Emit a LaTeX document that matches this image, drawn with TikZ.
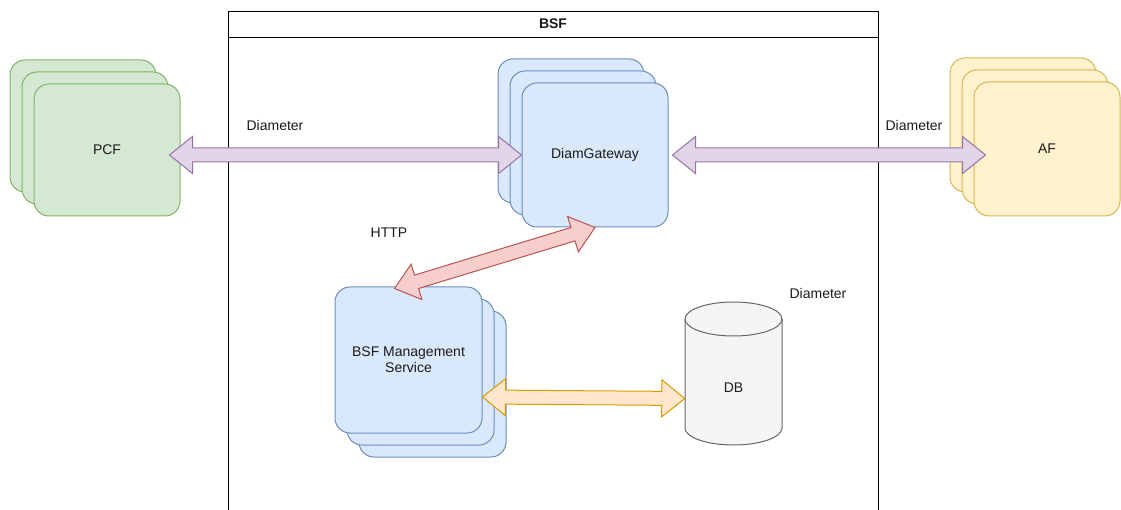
\documentclass[tikz,border=0pt]{standalone}
\usepackage{fontspec}
\setmainfont{Liberation Sans}
\usetikzlibrary{calc}
\definecolor{grfill}{HTML}{D5E8D4}\definecolor{grdraw}{HTML}{82B366}
\definecolor{blfill}{HTML}{DAE8FC}\definecolor{bldraw}{HTML}{6C8EBF}
\definecolor{yefill}{HTML}{FFF2CC}\definecolor{yedraw}{HTML}{D6B656}
\definecolor{pufill}{HTML}{E1D5E7}\definecolor{pudraw}{HTML}{9673A6}
\definecolor{rdfill}{HTML}{F8CECC}\definecolor{rddraw}{HTML}{B85450}
\definecolor{orfill}{HTML}{FFE6CC}\definecolor{ordraw}{HTML}{D79B00}
\definecolor{dbfill}{HTML}{F5F5F5}\definecolor{dbdraw}{HTML}{666666}
\definecolor{txt}{HTML}{1A1A1A}
\newcommand\flexarrow[3]{%
  \draw[#3,line width=1pt,line join=miter]
    (#1)
    -- ($(#1)!23pt!(#2)!18.5pt!90:(#2)$)
    -- ($(#1)!23pt!(#2)!7pt!90:(#2)$)
    -- ($(#2)!23pt!(#1)!7pt!-90:(#1)$)
    -- ($(#2)!23pt!(#1)!18.5pt!-90:(#1)$)
    -- (#2)
    -- ($(#2)!23pt!(#1)!18.5pt!90:(#1)$)
    -- ($(#2)!23pt!(#1)!7pt!90:(#1)$)
    -- ($(#1)!23pt!(#2)!7pt!-90:(#2)$)
    -- ($(#1)!23pt!(#2)!18.5pt!-90:(#2)$)
    -- cycle;}
\begin{document}
\begin{tikzpicture}[x=1pt,y=-1pt,
  every node/.style={font=\fontsize{14}{16}\selectfont, text=txt},
  card/.style={draw, line width=1pt, rounded corners=15pt, inner sep=0pt, align=center},
  pcfcard/.style={card, draw=grdraw, fill=grfill, minimum width=146pt, minimum height=132pt},
  dgcard/.style={card, draw=bldraw, fill=blfill, minimum width=146pt, minimum height=144pt},
  afcard/.style={card, draw=yedraw, fill=yefill, minimum width=146pt, minimum height=134pt},
  mgcard/.style={card, draw=bldraw, fill=blfill, minimum width=147pt, minimum height=146pt},
  lbl/.style={inner sep=0pt}]
\useasboundingbox (0,0) rectangle (1121,510);
% BSF container
\node[draw, line width=1pt, minimum width=650pt, minimum height=510pt, inner sep=0pt, anchor=north west] (bsf) at (228,11) {};
\draw[line width=1pt] (228,38) coordinate (hl) -- (878,38) coordinate (hr);
\node[lbl, font=\fontsize{14}{16}\selectfont\bfseries] (bsft) at (553,24) {BSF};
% PCF stack
\node[pcfcard] (pcf3) at (83,126) {};
\node[pcfcard] (pcf2) at (95,138) {};
\node[pcfcard] (pcf) at (107,150) {PCF};
% DiamGateway stack
\node[dgcard] (dg3) at (571,131) {};
\node[dgcard] (dg2) at (583,143) {};
\node[dgcard] (dg) at (595,155) {DiamGateway};
% AF stack
\node[afcard] (af3) at (1023,125) {};
\node[afcard] (af2) at (1035,137) {};
\node[afcard] (af) at (1047,149) {AF};
% BSF Management stack
\node[mgcard] (mg3) at (432.5,384) {};
\node[mgcard] (mg2) at (420.5,372) {};
\node[mgcard] (mg) at (408.5,360) {BSF Management\\Service};
% DB cylinder
\node[minimum width=97pt, minimum height=143pt, inner sep=0pt] (db) at (733.5,373.5) {};
\draw[draw=dbdraw, fill=dbfill, line width=1pt]
  (685,319) -- (685,428) arc[start angle=180, end angle=0, x radius=48.5, y radius=17]
  -- (782,319) arc[start angle=0, end angle=-180, x radius=48.5, y radius=17] -- cycle;
\draw[draw=dbdraw, line width=1pt] (685,319) arc[start angle=180, end angle=0, x radius=48.5, y radius=17];
\node[lbl] (dbt) at (733.5,388) {DB};
% labels
\node[lbl] (l1) at (275,125) {Diameter};
\node[lbl] (l2) at (914,125) {Diameter};
\node[lbl] (l3) at (389,233) {HTTP};
\node[lbl] (l4) at (818,293) {Diameter};
% connector ends
\coordinate (p1) at ($(pcf2.east |- dg.west)+(1,0)$);
\coordinate (p2) at (dg.west);
\coordinate (a1) at ($(dg.east)+(4,0)$);
\coordinate (a2) at ($(af.west |- dg.east)+(12,0)$);
\coordinate (h1) at (dg.south);
\coordinate (h2) at ($(mg.north)+(-14,2)$);
\coordinate (d1) at ($(mg.east)+(0,37)$);
\coordinate (d2) at ($(db.west)+(0,25)$);
% arrows
\flexarrow{p1}{p2}{draw=pudraw, fill=pufill}
\flexarrow{a1}{a2}{draw=pudraw, fill=pufill}
\flexarrow{h1}{h2}{draw=rddraw, fill=rdfill}
\flexarrow{d1}{d2}{draw=ordraw, fill=orfill}
\end{tikzpicture}
\end{document}
